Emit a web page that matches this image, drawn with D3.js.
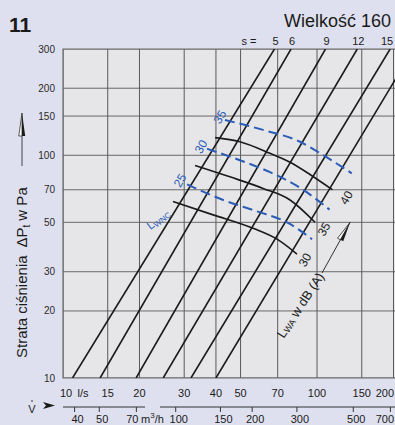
<!DOCTYPE html>
<html lang="pl">
<head>
<meta charset="UTF-8">
<title>Wielkość 160</title>
<script src="https://d3js.org/d3.v7.min.js"></script>
<style>
  body { margin: 0; background: #dfe0ef; }
  svg { display: block; font-family: "Liberation Sans", Arial, sans-serif; }
</style>
</head>
<body>
<svg id="chart" width="395" height="425"></svg>
<script>
// axis ticks
const flowTicks = [10, 15, 20, 30, 40, 50, 70, 100, 150, 200];      // l/s
const m3hTicks = [40, 50, 70, 100, 150, 200, 300, 500, 700];        // m3/h
const pressureTicks = [10, 20, 30, 50, 70, 100, 150, 200, 300];     // Pa

// damper setting lines: flow (l/s) at 10 Pa and at 300 Pa
const damperLabels = ["5", "6", "9", "12", "15", ""];
const flowAt10Pa = [10.9, 14.0, 19.4, 24.8, 31.9, 40.0];
const flowAt300Pa = [68, 79, 108, 144, 194, 240];

// sound power L_WA (solid black), [l/s, Pa]
const lwa40 = [[39.7, 120], [49.7, 115], [65.3, 102], [78.3, 93], [93.8, 82], [115, 70]];
const lwa35 = [[33.1, 90], [45.4, 80], [61.3, 71], [78.3, 63], [98.2, 50]];
const lwa30 = [[27.1, 62], [39.0, 54], [56.0, 47], [69.6, 42], [83.4, 36]];
// L_WNC (blue dashed)
const lwnc35 = [[43.4, 144], [61.3, 130], [85.7, 115], [109, 98], [137, 83]];
const lwnc30 = [[36.9, 107], [49.7, 95], [65.3, 84], [88.1, 70], [112, 57]];
const lwnc25 = [[30.8, 74], [42.7, 63], [58.0, 56], [76.2, 50], [95.6, 42]];

const W = 395, H = 425;
const svg = d3.select("#chart");

const x = d3.scaleLog().domain([10, 200]).range([63, 393.5]);
const y = d3.scaleLog().domain([10, 300]).range([378, 49]);

svg.append("rect").attr("width", W).attr("height", H).attr("fill", "#dfe0ef");

svg.append("defs").append("clipPath").attr("id", "plotClip")
  .append("rect").attr("x", 63).attr("y", 49).attr("width", W - 63).attr("height", 378 - 49);

// plot background
svg.append("rect")
  .attr("x", 63).attr("y", 49).attr("width", W - 63).attr("height", 378 - 49)
  .attr("fill", "#e6e6e8");

// grid
const grid = svg.append("g").attr("clip-path", "url(#plotClip)");
grid.selectAll(".vg").data(flowTicks).enter().append("line")
  .attr("x1", d => x(d)).attr("x2", d => x(d))
  .attr("y1", y(300)).attr("y2", y(10))
  .attr("stroke", "#4a4a4a").attr("stroke-width", 0.9);
grid.selectAll(".hg").data(pressureTicks).enter().append("line")
  .attr("x1", 63).attr("x2", W)
  .attr("y1", d => y(d)).attr("y2", d => y(d))
  .attr("stroke", "#5a5a5a").attr("stroke-width", 0.9);

// frame (left, top, bottom)
svg.append("path")
  .attr("d", `M${W},49H63V378H${W}`)
  .attr("fill", "none").attr("stroke", "#6a6a6a").attr("stroke-width", 1.2);

// damper lines
const plot = svg.append("g").attr("clip-path", "url(#plotClip)");
plot.selectAll(".damper").data(flowAt10Pa).enter().append("line")
  .attr("x1", d => x(d)).attr("y1", y(10))
  .attr("x2", (d, i) => x(flowAt300Pa[i])).attr("y2", y(300))
  .attr("stroke", "#1a1a1a").attr("stroke-width", 1.6);

const curve = d3.line().x(d => x(d[0])).y(d => y(d[1])).curve(d3.curveMonotoneX);

[lwa40, lwa35, lwa30].forEach(c => {
  plot.append("path").attr("d", curve(c))
    .attr("fill", "none").attr("stroke", "#1a1a1a").attr("stroke-width", 1.6);
});
[lwnc35, lwnc30, lwnc25].forEach(c => {
  plot.append("path").attr("d", curve(c))
    .attr("fill", "none").attr("stroke", "#2a5cb8").attr("stroke-width", 2)
    .attr("stroke-dasharray", "10,5");
});

// curve labels
function rotLabel(text, px, py, angle, color, size) {
  svg.append("text")
    .attr("transform", `translate(${px},${py}) rotate(${angle})`)
    .attr("text-anchor", "middle").attr("dominant-baseline", "central")
    .attr("font-size", size).attr("fill", color).text(text);
}
const lwaEnds = [[lwa40, "40", 14, 8], [lwa35, "35", 9, 7], [lwa30, "30", 8, 6]];
lwaEnds.forEach(([c, t, dx, dy]) => {
  const p = c[c.length - 1];
  rotLabel(t, x(p[0]) + dx, y(p[1]) + dy, -60, "#1a1a1a", 12);
});
const lwncStarts = [[lwnc35, "35", -5, -3], [lwnc30, "30", -6, -2], [lwnc25, "25", -7, -4]];
lwncStarts.forEach(([c, t, dx, dy]) => {
  rotLabel(t, x(c[0][0]) + dx, y(c[0][1]) + dy, -60, "#2a5cb8", 12);
});

// L_WNC label
const lwncLab = svg.append("text")
  .attr("transform", "translate(158,219) rotate(-38)")
  .attr("text-anchor", "middle").attr("dominant-baseline", "central")
  .attr("fill", "#2a5cb8").attr("font-size", 11);
lwncLab.append("tspan").text("L");
lwncLab.append("tspan").attr("font-size", 8).attr("dy", 3).text("WNC");

// L_WA label + arrow
const lwaLab = svg.append("text")
  .attr("transform", "translate(300,305) rotate(-57)")
  .attr("text-anchor", "middle").attr("dominant-baseline", "central")
  .attr("fill", "#1a1a1a").attr("font-size", 13);
lwaLab.append("tspan").text("L");
lwaLab.append("tspan").attr("font-size", 9).attr("dy", 3).text("WA");
lwaLab.append("tspan").attr("dy", -3).text(" w dB (A)");

const arr = svg.append("g").attr("transform", "translate(322,273) rotate(-61)");
arr.append("line").attr("x1", 0).attr("y1", 0).attr("x2", 46).attr("y2", 0)
  .attr("stroke", "#1a1a1a").attr("stroke-width", 0.8);
arr.append("path").attr("d", "M58,0L38,-3.2L38,0Z").attr("fill", "#fff").attr("stroke", "#1a1a1a").attr("stroke-width", 0.7);
arr.append("path").attr("d", "M58,0L38,3.2L38,0Z").attr("fill", "#1a1a1a");

// damper setting labels
svg.append("text").attr("x", 249).attr("y", 45).attr("text-anchor", "middle")
  .attr("font-size", 11).attr("fill", "#1a1a1a").text("s =");
svg.selectAll(".slab").data(damperLabels).enter().append("text")
  .attr("x", (d, i) => Math.min(x(flowAt300Pa[i]) + 1, 387)).attr("y", 45)
  .attr("text-anchor", "middle").attr("font-size", 11).attr("fill", "#1a1a1a")
  .text(d => d);

// y tick labels
svg.selectAll(".ylab").data(pressureTicks).enter().append("text")
  .attr("x", 55).attr("y", d => y(d)).attr("dy", "0.35em")
  .attr("text-anchor", "end").attr("font-size", 10).attr("fill", "#2a2a2a")
  .text(d => d);

// x tick labels (l/s); the last one is kept inside the page edge
svg.selectAll(".xlab").data(flowTicks).enter().append("text")
  .attr("x", d => d === 200 ? W - 1 : x(d) + (d === 10 ? 3 : 0)).attr("y", 397)
  .attr("text-anchor", d => d === 200 ? "end" : "middle")
  .attr("font-size", 11).attr("fill", "#1a1a1a")
  .text(d => d);
svg.append("text").attr("x", 83).attr("y", 397).attr("text-anchor", "middle")
  .attr("font-size", 11).attr("fill", "#1a1a1a").text("l/s");

// m3/h axis
const xm = d => x(d / 3.6);
svg.append("line").attr("x1", 63).attr("x2", 145).attr("y1", 407).attr("y2", 407)
  .attr("stroke", "#333").attr("stroke-width", 1);
svg.append("line").attr("x1", 160).attr("x2", W).attr("y1", 407).attr("y2", 407)
  .attr("stroke", "#333").attr("stroke-width", 1);
svg.selectAll(".mt").data(m3hTicks).enter().append("line")
  .attr("x1", d => xm(d)).attr("x2", d => xm(d)).attr("y1", 407).attr("y2", 412)
  .attr("stroke", "#333").attr("stroke-width", 1);
svg.selectAll(".mlab").data(m3hTicks).enter().append("text")
  .attr("x", d => d === 700 ? W - 1 : xm(d) + (d === 70 ? -4 : 3)).attr("y", 423)
  .attr("text-anchor", d => d === 700 ? "end" : "middle")
  .attr("font-size", 11).attr("fill", "#1a1a1a")
  .text(d => d);
const unit = svg.append("text").attr("x", 141).attr("y", 423)
  .attr("font-size", 11).attr("fill", "#1a1a1a");
unit.append("tspan").text("m");
unit.append("tspan").attr("font-size", 8).attr("dy", -5).text("3");
unit.append("tspan").attr("dy", 5).text("/h");

// V-dot with arrow
svg.append("text").attr("x", 32).attr("y", 413).attr("text-anchor", "middle")
  .attr("font-size", 11).attr("fill", "#1a1a1a").text("V");
svg.append("circle").attr("cx", 32).attr("cy", 401).attr("r", 0.8).attr("fill", "#1a1a1a");
svg.append("path").attr("d", "M43,402L55,405.5L43,409L46,405.5Z").attr("fill", "#1a1a1a");

// y axis title with arrow
const yt = svg.append("text")
  .attr("transform", "translate(27,358) rotate(-90)")
  .attr("font-size", 15).attr("fill", "#1a1a1a");
yt.append("tspan").text("Strata ciśnienia");
yt.append("tspan").attr("dx", 8).text("ΔP");
yt.append("tspan").attr("font-size", 10).attr("dy", 3).text("t");
yt.append("tspan").attr("dy", -3).attr("dx", 4).text("w Pa");
const ya = svg.append("g").attr("transform", "translate(22,0)");
ya.append("line").attr("x1", 0).attr("x2", 0).attr("y1", 166).attr("y2", 134)
  .attr("stroke", "#1a1a1a").attr("stroke-width", 0.8);
ya.append("path").attr("d", "M0,113L-3.2,136L0,136Z").attr("fill", "#fff").attr("stroke", "#1a1a1a").attr("stroke-width", 0.7);
ya.append("path").attr("d", "M0,113L3.2,136L0,136Z").attr("fill", "#1a1a1a");

// titles
svg.append("text").attr("x", 9).attr("y", 32).attr("font-size", 21).attr("font-weight", "bold")
  .attr("fill", "#1a1a1a").text("11");
svg.append("text").attr("x", 391).attr("y", 27).attr("text-anchor", "end").attr("font-size", 18)
  .attr("fill", "#1a1a1a").text("Wielkość 160");
</script>
</body>
</html>
